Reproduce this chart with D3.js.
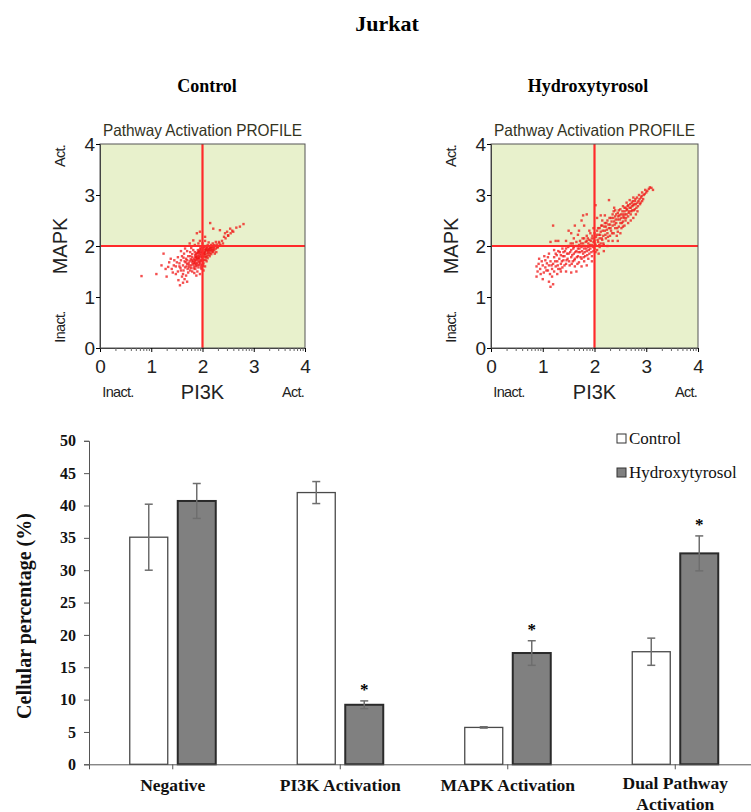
<!DOCTYPE html>
<html>
<head>
<meta charset="utf-8">
<script src="https://cdn.jsdelivr.net/npm/d3@7"></script>
<style>
  html, body { margin: 0; padding: 0; background: #fff; }
  svg { display: block; }
</style>
</head>
<body>
<svg id="chart" width="751" height="812"></svg>
<script>
// ---------------- DATA ----------------
const mainTitle = "Jurkat";
const panelTitles = ["Control", "Hydroxytyrosol"];
const scatterTitle = "Pathway Activation PROFILE";
const scatterTicks = [0, 1, 2, 3, 4];
const scatterMinorTicks = [0.301, 0.477, 0.602, 0.699, 0.778, 0.845, 0.903, 0.954,
  1.301, 1.477, 1.602, 1.699, 1.778, 1.845, 1.903, 1.954,
  2.301, 2.477, 2.602, 2.699, 2.778, 2.845, 2.903, 2.954,
  3.301, 3.477, 3.602, 3.699, 3.778, 3.845, 3.903, 3.954];
const thresholdPI3K = 2;
const thresholdMAPK = 2;

// Control scatter (PI3K, MAPK)
const controlPoints = [
  [1.90,1.80],[1.95,1.85],[2.00,1.90],[2.05,1.88],[2.10,1.92],[2.00,1.75],[1.92,1.70],[1.85,1.72],[1.88,1.78],[1.97,1.82],
  [2.02,1.84],[2.08,1.85],[2.12,1.95],[2.15,1.90],[2.18,1.97],[2.20,1.93],[2.06,1.95],[2.03,1.98],[1.98,1.93],[1.93,1.88],
  [1.87,1.84],[1.83,1.75],[1.80,1.68],[1.85,1.65],[1.90,1.62],[1.95,1.66],[2.00,1.70],[2.04,1.78],[2.09,1.80],[2.14,1.86],
  [2.17,1.84],[2.22,1.96],[2.25,2.00],[2.13,2.00],[2.08,1.99],[1.99,1.78],[1.94,1.74],[1.89,1.67],[1.84,1.60],[1.78,1.62],
  [1.75,1.70],[1.80,1.78],[1.86,1.82],[1.91,1.92],[1.96,1.96],[2.01,1.95],[2.07,1.91],[2.11,1.87],[2.16,1.93],[2.19,1.88],
  [2.23,1.92],[2.26,1.95],[2.05,1.82],[1.99,1.86],[1.93,1.80],[1.88,1.73],[1.82,1.71],[1.77,1.74],[1.92,1.58],[1.97,1.62],
  [2.02,1.66],[2.06,1.73],[2.10,1.76],[1.91,1.76],[1.96,1.79],[2.03,1.87],[2.07,1.93],[1.94,1.90],[1.89,1.86],[2.12,1.83],
  [2.16,1.98],[2.21,1.99],[1.86,1.69],[1.81,1.64],[1.98,1.72],[2.04,1.92],[1.92,1.84],[1.87,1.77],[2.09,1.96],[2.14,1.80],
  [1.93,1.77],[1.97,1.88],[2.01,1.80],[2.04,1.85],[2.07,1.78],[2.11,1.90],[2.13,1.93],[1.96,1.71],[1.90,1.74],[1.86,1.79],
  [1.83,1.67],[1.79,1.72],[1.88,1.64],[1.94,1.68],[2.00,1.64],[2.03,1.72],[2.08,1.70],[1.99,1.98],[2.04,2.00],[2.10,2.02],
  [2.15,1.96],[2.18,1.92],[2.21,1.89],[1.91,1.88],[1.85,1.88],[1.80,1.84],[1.76,1.80],[1.73,1.66],[1.78,1.57],[1.83,1.56],
  [1.87,1.60],[1.93,1.63],[1.97,1.58],[2.01,1.61],[1.74,1.62],[1.69,1.60],[1.67,1.68],[1.63,1.77],[1.70,1.72],[1.95,1.93],
  [2.23,2.02],[2.29,1.97],[2.33,2.05],[2.26,2.08],[2.17,2.02],
  [1.70,1.65],[1.72,1.80],[1.68,1.75],[1.65,1.70],[1.62,1.62],[1.66,1.58],[1.71,1.55],[1.76,1.52],[1.80,1.50],[1.86,1.55],
  [1.74,1.58],[1.60,1.80],[1.58,1.72],[1.55,1.66],[1.52,1.78],[1.64,1.85],[1.70,1.90],[1.76,1.88],[1.82,1.92],[1.78,1.96],
  [1.85,2.02],[1.92,2.05],[2.00,2.05],[1.95,2.10],[2.05,2.10],[2.12,2.07],[2.20,2.05],[2.28,2.03],[2.32,2.08],[2.38,2.10],
  [2.30,1.98],[2.35,2.02],[2.27,1.88],[2.24,1.85],[2.40,2.05],[2.45,2.15],[2.50,2.20],[1.90,1.50],[1.95,1.45],[1.88,1.42],
  [1.84,1.47],[1.72,1.48],[1.68,1.42],[1.62,1.45],[1.58,1.52],[1.55,1.60],[1.50,1.68],[1.48,1.60],[1.45,1.72],[1.60,1.40],
  [1.65,1.35],[1.98,1.55],[2.05,1.60],[2.02,1.52],[1.57,1.57],[1.52,1.50],[1.63,1.52],[1.48,1.45],[1.44,1.62],[1.38,1.75],
  [1.28,1.55],[1.66,1.95],[1.58,1.90],[2.42,2.18],[2.58,2.30],[2.66,2.36],
  [0.81,1.41],[1.10,1.45],[1.24,1.85],[1.33,1.59],[1.53,1.33],[1.56,1.23],[2.15,2.45],[2.34,2.31],[2.54,2.34],[2.73,2.38],
  [2.80,2.43],[2.44,2.25],[2.50,2.21],[2.21,2.34],[1.89,2.25],[1.82,2.11],[1.40,1.55],[1.35,1.68],[1.20,1.62],[1.42,1.48],
  [1.30,1.40],[1.75,2.05],[2.60,2.28],[2.48,2.28],[2.55,2.25],[1.95,2.28],[2.05,2.18],[1.70,1.30],[1.62,1.28]
];

// Hydroxytyrosol scatter (PI3K, MAPK)
const hydroxyPoints = [
  [0.88,1.60],[0.90,1.50],[0.92,1.65],[0.95,1.55],[0.98,1.70],[1.00,1.62],[1.02,1.48],[1.05,1.58],[1.05,1.72],[1.08,1.66],
  [1.10,1.52],[1.10,1.78],[0.88,1.40],[1.00,1.35],[1.12,1.30],[1.15,1.20],[1.20,1.25],[1.18,1.40],
  [1.12,1.62],[1.15,1.70],[1.18,1.55],[1.20,1.65],[1.22,1.78],[1.25,1.60],[1.25,1.85],[1.28,1.70],[1.30,1.55],[1.30,1.90],
  [1.32,1.75],[1.35,1.65],[1.35,1.82],[1.38,1.95],[1.38,1.58],[1.40,1.72],[1.40,1.88],[1.22,1.92],[1.20,2.40],[1.28,1.45],
  [1.35,1.50],[1.15,2.08],[1.25,2.10],[1.30,2.10],
  [1.42,1.80],[1.45,1.65],[1.45,1.95],[1.48,1.75],[1.50,1.85],[1.50,2.00],[1.52,1.62],[1.55,1.78],[1.55,1.92],[1.58,1.70],
  [1.58,2.05],[1.60,1.85],[1.60,1.98],[1.62,1.60],[1.62,1.75],[1.65,1.90],[1.65,2.08],[1.68,1.80],[1.68,1.95],[1.70,1.68],
  [1.70,2.02],[1.45,1.50],[1.55,1.48],[1.65,1.50],[1.50,2.30],[1.60,2.15],[1.45,2.10],[1.68,2.22],[1.55,2.25],[1.62,2.40],
  [1.72,1.88],[1.72,2.10],[1.75,1.75],[1.75,1.98],[1.78,2.05],[1.78,1.85],[1.80,1.70],[1.80,1.95],[1.80,2.15],[1.82,2.00],
  [1.82,1.80],[1.85,1.90],[1.85,2.10],[1.85,2.20],[1.88,1.75],[1.88,1.98],[1.88,2.05],[1.90,1.85],[1.90,2.12],[1.92,1.95],
  [1.92,2.25],[1.95,1.80],[1.95,2.02],[1.95,2.15],[1.98,1.90],[1.98,2.08],[1.75,1.60],[1.85,1.62],[1.95,1.70],[1.70,2.30],
  [1.80,2.40],[1.78,2.60],[1.85,2.62],[1.90,2.30],[1.75,2.50],[1.98,2.35],
  [2.00,1.95],[2.00,2.10],[2.00,2.25],[2.02,2.02],[2.02,2.80],[2.03,2.18],[2.05,1.92],[2.05,2.30],[2.07,2.08],[2.08,2.22],
  [2.10,1.98],[2.10,2.15],[2.10,2.35],[2.12,2.05],[2.12,2.28],[2.15,2.12],[2.15,2.40],[2.17,2.20],[2.18,2.02],[2.20,2.30],
  [2.20,2.45],[2.22,2.15],[2.22,2.38],[2.25,2.25],[2.25,2.50],[2.27,2.10],[2.28,2.35],[2.30,2.42],[2.30,2.20],[2.05,2.55],
  [2.12,2.60],[2.15,2.50],[2.08,1.85],[2.18,1.90],[2.25,2.00],[2.28,2.90],[2.20,2.60],
  [2.32,2.30],[2.32,2.55],[2.35,2.40],[2.35,2.62],[2.37,2.25],[2.38,2.48],[2.40,2.35],[2.40,2.58],[2.40,2.70],[2.42,2.45],
  [2.43,2.20],[2.45,2.52],[2.45,2.65],[2.47,2.38],[2.48,2.60],[2.50,2.45],[2.50,2.72],[2.52,2.55],[2.52,2.35],[2.55,2.62],
  [2.55,2.48],[2.55,2.78],[2.57,2.55],[2.58,2.68],[2.60,2.50],[2.60,2.75],[2.35,2.10],[2.45,2.10],[2.50,2.25],[2.58,2.40],
  [2.62,2.85],[2.38,2.75],
  [2.62,2.62],[2.63,2.72],[2.65,2.58],[2.65,2.80],[2.67,2.68],[2.68,2.90],[2.70,2.62],[2.70,2.75],[2.72,2.85],[2.73,2.70],
  [2.75,2.80],[2.75,2.95],[2.78,2.72],[2.78,2.88],[2.80,2.82],[2.80,2.62],[2.82,2.95],[2.84,2.78],[2.85,2.88],[2.86,3.00],
  [2.88,2.82],[2.90,2.95],[2.92,3.05],[2.95,3.00],[2.98,3.10],[3.00,3.05],[3.05,3.12],[3.10,3.14],[3.13,3.10],[2.92,2.88],
  [2.70,2.50],[2.75,2.55],[2.65,2.45],
  [0.93,1.75],[0.96,1.45],[1.03,1.80],[1.07,1.52],[1.12,1.85],[1.14,1.45],[1.17,1.62],[1.22,1.50],[1.24,1.70],[1.27,1.82],
  [1.29,1.62],[1.33,1.88],[1.34,1.55],[1.37,1.70],[1.39,1.80],[1.42,1.62],[1.43,1.90],[1.46,1.72],[1.47,1.85],[1.49,1.98],
  [1.51,1.70],[1.53,1.88],[1.54,2.05],[1.56,1.65],[1.57,1.82],[1.59,1.95],[1.61,1.72],[1.63,1.88],[1.64,2.00],[1.66,1.78],
  [1.67,1.65],[1.69,1.88],[1.71,1.95],[1.73,1.78],[1.74,2.05],[1.76,1.90],[1.77,2.15],[1.79,1.78],[1.81,1.88],[1.83,2.08],
  [1.84,1.95],[1.86,1.82],[1.87,2.15],[1.89,1.92],[1.91,2.02],[1.93,2.10],[1.94,1.88],[1.96,2.20],[1.97,1.98],[1.99,2.15],
  [2.01,2.05],[2.02,1.88],[2.04,2.22],[2.06,2.12],[2.07,2.35],[2.09,2.02],[2.11,2.22],[2.13,2.40],[2.14,2.15],[2.16,2.30],
  [2.17,2.05],[2.19,2.38],[2.21,2.22],[2.23,2.45],[2.24,2.32],[2.26,2.18],[2.27,2.42],[2.29,2.55],[2.31,2.35],[2.33,2.48],
  [2.34,2.25],[2.36,2.55],[2.37,2.68],[2.39,2.42],[2.41,2.52],[2.42,2.62],[2.44,2.35],[2.46,2.58],[2.47,2.70],[2.49,2.52],
  [2.51,2.62],[2.53,2.45],[2.54,2.68],[2.56,2.58],[2.58,2.75],[2.59,2.62],[2.61,2.55],[2.62,2.70],[2.64,2.78],[2.66,2.65],
  [2.68,2.75],[2.69,2.82],[2.71,2.68],[2.73,2.78],[2.74,2.88],[2.76,2.70],[2.77,2.82],[2.79,2.92],[2.81,2.75],[2.83,2.85],
  [2.87,2.92],[2.89,2.85],[2.91,2.98],[2.94,2.92],[2.97,3.02],[3.02,3.08],[3.07,3.15],[2.83,2.68],[2.55,2.38],[2.45,2.28]
];

// Bar chart
const categories = ["Negative", "PI3K Activation", "MAPK Activation", "Dual Pathway Activation"];
const categoryLabelLines = [["Negative"], ["PI3K Activation"], ["MAPK Activation"], ["Dual Pathway", "Activation"]];
const seriesNames = ["Control", "Hydroxytyrosol"];
const controlValues = [35.1, 42.0, 5.7, 17.4];
const controlErrors = [5.1, 1.7, 0.1, 2.1];
const hydroxyValues = [40.7, 9.2, 17.2, 32.6];
const hydroxyErrors = [2.7, 0.6, 1.9, 2.7];
const hydroxySignificant = [false, true, true, true];
const barYTicks = [0, 5, 10, 15, 20, 25, 30, 35, 40, 45, 50];
const barYLabel = "Cellular percentage (%)";

// ---------------- DRAW ----------------
const svg = d3.select("#chart");
const serif = "'Liberation Serif', 'Times New Roman', serif";
const sans = "'Liberation Sans', Arial, sans-serif";

svg.append("text").attr("x", 387).attr("y", 31).attr("text-anchor", "middle")
  .style("font-family", serif).style("font-weight", "bold").style("font-size", "22px")
  .text(mainTitle);

function scatterPanel(left, width, heading, headingX, points) {
  const top = 144, height = 204;
  const x = d3.scaleLinear().domain([0, 4]).range([left, left + width]);
  const y = d3.scaleLinear().domain([0, 4]).range([top + height, top]);
  const g = svg.append("g");

  g.append("text").attr("x", headingX).attr("y", 92).attr("text-anchor", "middle")
    .style("font-family", serif).style("font-weight", "bold").style("font-size", "18px")
    .text(heading);

  g.append("text").attr("x", x(0) + 3).attr("y", 136)
    .attr("textLength", width - 6).attr("lengthAdjust", "spacingAndGlyphs")
    .style("font-family", sans).style("font-size", "16.5px")
    .attr("fill", "#33331e").text(scatterTitle);

  // background
  g.append("rect").attr("x", x(0)).attr("y", y(4)).attr("width", x(4) - x(0)).attr("height", y(0) - y(4))
    .attr("fill", "#e8f1cc");
  g.append("rect").attr("x", x(0)).attr("y", y(thresholdMAPK)).attr("width", x(thresholdPI3K) - x(0))
    .attr("height", y(0) - y(thresholdMAPK)).attr("fill", "#ffffff");

  // points
  g.append("g").selectAll("rect").data(points).join("rect")
    .attr("x", d => x(d[0]) - 1.2).attr("y", d => y(d[1]) - 1.2)
    .attr("width", 2.4).attr("height", 2.4)
    .attr("fill", "#f01414").attr("opacity", 0.75);

  // threshold lines
  g.append("line").attr("x1", x(thresholdPI3K)).attr("x2", x(thresholdPI3K)).attr("y1", y(4)).attr("y2", y(0))
    .attr("stroke", "#ff2a2a").attr("stroke-width", 2.2);
  g.append("line").attr("x1", x(0)).attr("x2", x(4)).attr("y1", y(thresholdMAPK)).attr("y2", y(thresholdMAPK))
    .attr("stroke", "#ff2a2a").attr("stroke-width", 2.2);

  // frame
  g.append("rect").attr("x", x(0)).attr("y", y(4)).attr("width", x(4) - x(0)).attr("height", y(0) - y(4))
    .attr("fill", "none").attr("stroke", "#555").attr("stroke-width", 1);

  // axes
  const ax = g.append("g").attr("transform", `translate(0,${y(0)})`)
    .call(d3.axisBottom(x).tickValues(scatterTicks).tickSize(4).tickPadding(8).tickFormat(d3.format("d")));
  ax.select(".domain").attr("stroke", "#444");
  ax.selectAll("text").style("font-family", sans).style("font-size", "19px").attr("fill", "#222");
  const axm = g.append("g").attr("transform", `translate(0,${y(0)})`)
    .call(d3.axisBottom(x).tickValues(scatterMinorTicks).tickSize(3).tickFormat(""));
  axm.select(".domain").remove();
  axm.selectAll("line").attr("stroke", "#666");

  const ay = g.append("g").attr("transform", `translate(${x(0)},0)`)
    .call(d3.axisLeft(y).tickValues(scatterTicks).tickSize(4).tickPadding(1).tickFormat(d3.format("d")));
  ay.select(".domain").attr("stroke", "#444");
  ay.selectAll("text").style("font-family", sans).style("font-size", "19px").attr("fill", "#222");

  // axis titles
  g.append("text").attr("x", x(2)).attr("y", 399).attr("text-anchor", "middle")
    .style("font-family", sans).style("font-size", "20px").attr("fill", "#222").text("PI3K");
  g.append("text").attr("x", x(0) + 18).attr("y", 397).attr("text-anchor", "middle")
    .style("font-family", sans).style("font-size", "14.5px").style("letter-spacing", "-0.7px").attr("fill", "#222").text("Inact.");
  g.append("text").attr("x", x(4) - 12).attr("y", 397).attr("text-anchor", "middle")
    .style("font-family", sans).style("font-size", "14.5px").style("letter-spacing", "-0.7px").attr("fill", "#222").text("Act.");

  g.append("text").attr("transform", `translate(${left - 33},${y(2)}) rotate(-90)`).attr("text-anchor", "middle")
    .style("font-family", sans).style("font-size", "20px").attr("fill", "#222").text("MAPK");
  g.append("text").attr("transform", `translate(${left - 35},${top + 12}) rotate(-90)`).attr("text-anchor", "middle")
    .style("font-family", sans).style("font-size", "14.5px").style("letter-spacing", "-0.7px").attr("fill", "#222").text("Act.");
  g.append("text").attr("transform", `translate(${left - 35},${top + 183}) rotate(-90)`).attr("text-anchor", "middle")
    .style("font-family", sans).style("font-size", "14.5px").style("letter-spacing", "-0.7px").attr("fill", "#222").text("Inact.");
}

scatterPanel(100, 205, panelTitles[0], 207, controlPoints);
scatterPanel(491, 207, panelTitles[1], 588, hydroxyPoints);

// ---------------- BAR CHART ----------------
const bx0 = 89, bx1 = 759, by0 = 764.3, by1 = 440.8;
const x0 = d3.scaleBand().domain(categories).range([bx0, bx1]).padding(0);
const bw = x0.bandwidth();
const x1 = d3.scaleBand().domain(seriesNames).range([bw / 2 - 43, bw / 2 + 43]).paddingInner(10 / 48).paddingOuter(0);
const yb = d3.scaleLinear().domain([0, 50]).range([by0, by1]);

const barData = categories.map((c, i) => ({
  cat: c,
  vals: [
    { s: seriesNames[0], v: controlValues[i], e: controlErrors[i], sig: false },
    { s: seriesNames[1], v: hydroxyValues[i], e: hydroxyErrors[i], sig: hydroxySignificant[i] }
  ]
}));

const fills = { "Control": "#ffffff", "Hydroxytyrosol": "#808080" };
const strokes = { "Control": "#4a4a4a", "Hydroxytyrosol": "#2a2a2a" };

const bg = svg.append("g");
const groups = bg.selectAll("g.cat").data(barData).join("g").attr("class", "cat")
  .attr("transform", d => `translate(${x0(d.cat)},0)`);

groups.selectAll("rect").data(d => d.vals).join("rect")
  .attr("x", d => x1(d.s)).attr("width", x1.bandwidth())
  .attr("y", d => yb(d.v)).attr("height", d => yb(0) - yb(d.v))
  .attr("fill", d => fills[d.s]).attr("stroke", d => strokes[d.s])
  .attr("stroke-width", d => d.s === "Control" ? 1.3 : 2);

// error bars
groups.selectAll("g.err").data(d => d.vals).join("g").attr("class", "err").each(function (d) {
  const cx = x1(d.s) + x1.bandwidth() / 2;
  const g = d3.select(this);
  const col = "#6e6e6e";
  g.append("line").attr("x1", cx).attr("x2", cx).attr("y1", yb(d.v + d.e)).attr("y2", yb(d.v - d.e))
    .attr("stroke", col).attr("stroke-width", 1.5);
  [d.v + d.e, d.v - d.e].forEach(v => {
    g.append("line").attr("x1", cx - 4).attr("x2", cx + 4).attr("y1", yb(v)).attr("y2", yb(v))
      .attr("stroke", col).attr("stroke-width", 1.5);
  });
  if (d.sig) {
    g.append("text").attr("x", cx).attr("y", yb(d.v + d.e) - 6).attr("text-anchor", "middle")
      .style("font-family", serif).style("font-weight", "bold").style("font-size", "17px").text("*");
  }
});

// y axis
const yAx = svg.append("g").attr("transform", `translate(${bx0},0)`)
  .call(d3.axisLeft(yb).tickValues(barYTicks).tickSize(5).tickPadding(8));
yAx.select(".domain").attr("stroke", "#555");
yAx.selectAll("line").attr("stroke", "#555");
yAx.selectAll("text").style("font-family", serif).style("font-weight", "bold").style("font-size", "16px").attr("fill", "#111");

// x axis
const xAx = svg.append("g").attr("transform", `translate(0,${by0})`)
  .call(d3.axisBottom(x0).tickSize(5).tickFormat(""));
xAx.select(".domain").attr("stroke", "#555");
xAx.selectAll("line").attr("stroke", "#555");

const xl = svg.append("g");
categories.forEach((c, i) => {
  const multi = categoryLabelLines[i].length > 1;
  const t = xl.append("text").attr("x", x0(c) + bw / 2).attr("y", multi ? 789 : 791).attr("text-anchor", "middle")
    .style("font-family", serif).style("font-weight", "bold").style("font-size", "17.5px").attr("fill", "#111");
  categoryLabelLines[i].forEach((line, j) => {
    t.append("tspan").attr("x", x0(c) + bw / 2).attr("dy", j === 0 ? 0 : 20.5).text(line);
  });
});

svg.append("text").attr("transform", `translate(31,616) rotate(-90)`).attr("text-anchor", "middle")
  .style("font-family", serif).style("font-weight", "bold").style("font-size", "20px").attr("fill", "#111")
  .text(barYLabel);

// legend
const leg = svg.append("g");
seriesNames.forEach((s, i) => {
  const yy = 439 + i * 34;
  leg.append("rect").attr("x", 617).attr("y", yy - 5).attr("width", 9).attr("height", 9)
    .attr("fill", fills[s]).attr("stroke", "#333").attr("stroke-width", 1);
  leg.append("text").attr("x", 629).attr("y", yy + 5)
    .style("font-family", serif).style("font-size", "17px").attr("fill", "#111").text(s);
});
</script>
</body>
</html>
